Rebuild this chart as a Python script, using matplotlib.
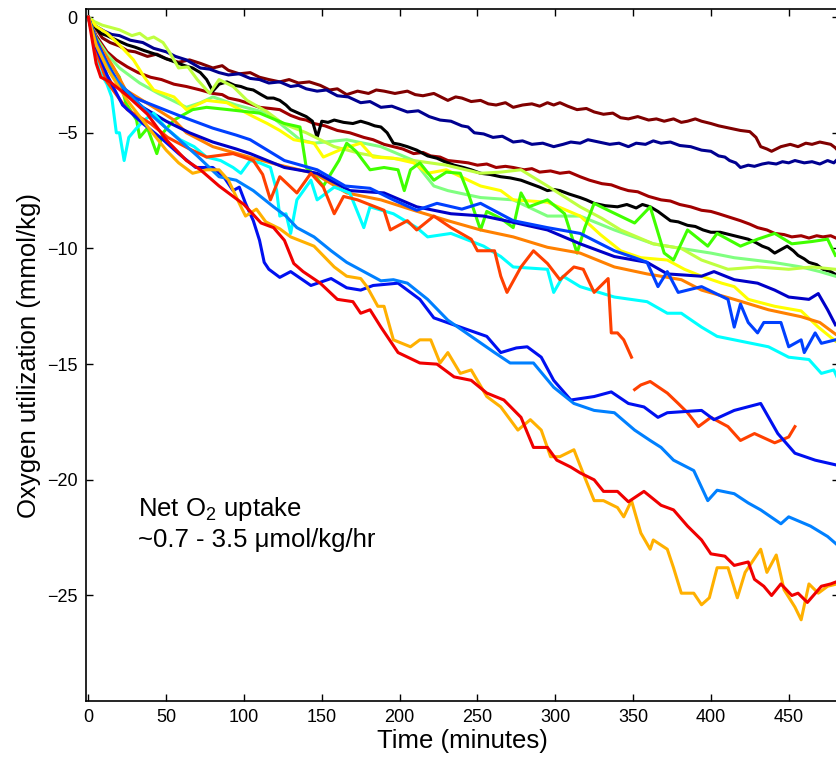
import numpy as np
import matplotlib.pyplot as plt

plt.rcParams['font.family'] = ['Liberation Sans', 'DejaVu Sans']
plt.rcParams['mathtext.fontset'] = 'custom'
plt.rcParams['mathtext.rm'] = 'Liberation Sans'
plt.rcParams['mathtext.default'] = 'regular'

# Oxygen utilization traces (time in minutes, mmol/kg)
maroon = [(0, 0), (3, -0.4), (5, -0.5), (9, -0.9), (14, -1.1), (20, -1.25), (25, -1.45), (30, -1.5), (38, -1.7),
          (44, -1.6), (50, -1.8), (58, -1.95), (65, -1.85), (72, -2.0), (80, -2.2), (86, -2.1), (90, -2.3),
          (97, -2.45), (104, -2.4), (110, -2.6), (116, -2.7), (123, -2.8), (129, -2.7), (135, -2.85), (142, -2.8),
          (149, -2.95), (155, -3.15), (160, -3.1), (166, -3.35), (173, -3.2), (180, -3.3), (185, -3.15), (190, -3.2),
          (197, -3.3), (205, -3.2), (210, -3.35), (215, -3.4), (222, -3.3), (231, -3.6), (236, -3.45), (240, -3.5),
          (246, -3.65), (252, -3.6), (257, -3.75), (262, -3.8), (268, -3.7), (273, -3.9), (279, -3.8), (285, -3.75),
          (290, -3.85), (295, -3.7), (299, -3.8), (303, -3.7), (308, -3.85), (314, -4.0), (320, -3.95), (325, -4.1),
          (331, -4.2), (337, -4.15), (342, -4.35), (347, -4.4), (353, -4.3), (360, -4.45), (365, -4.4), (370, -4.5),
          (376, -4.4), (381, -4.55), (385, -4.5), (390, -4.4), (394, -4.5), (400, -4.6), (405, -4.7), (412, -4.8),
          (419, -4.9), (425, -4.95), (429, -5.2), (432, -5.6), (436, -5.7), (439, -5.8), (445, -5.6), (451, -5.5),
          (456, -5.6), (461, -5.45), (465, -5.5), (470, -5.4), (477, -5.5), (480, -5.65), (482, -5.8)]

navy = [(0, 0), (3, -0.3), (5, -0.4), (10, -0.6), (15, -0.75), (20, -0.8), (27, -1.0), (35, -1.1), (42, -1.35),
        (50, -1.5), (56, -1.7), (63, -1.85), (72, -2.2), (78, -2.25), (84, -2.4), (90, -2.5), (97, -2.45),
        (104, -2.65), (110, -2.7), (116, -2.85), (123, -2.8), (130, -3.0), (135, -2.95), (140, -3.1), (147, -3.2),
        (153, -3.15), (160, -3.4), (167, -3.45), (175, -3.7), (181, -3.65), (188, -3.9), (195, -3.85), (205, -4.1),
        (212, -4.05), (219, -4.3), (226, -4.45), (233, -4.5), (240, -4.7), (244, -4.75), (248, -5.0), (254, -5.05),
        (260, -5.2), (266, -5.15), (273, -5.4), (279, -5.35), (285, -5.5), (292, -5.45), (299, -5.6), (305, -5.5),
        (310, -5.4), (316, -5.45), (321, -5.3), (328, -5.4), (335, -5.5), (341, -5.45), (347, -5.6), (352, -5.45),
        (358, -5.5), (363, -5.35), (368, -5.45), (374, -5.4), (380, -5.55), (387, -5.6), (394, -5.75), (400, -5.8),
        (405, -6.0), (409, -6.05), (412, -6.2), (416, -6.3), (419, -6.5), (424, -6.4), (428, -6.45), (433, -6.35),
        (437, -6.3), (442, -6.35), (446, -6.25), (450, -6.3), (454, -6.2), (460, -6.3), (465, -6.25), (470, -6.35),
        (475, -6.2), (479, -6.3), (482, -6.1)]

darkred = [(0, 0), (3, -0.5), (5, -0.8), (9, -1.2), (12, -1.5), (18, -1.85), (25, -2.15), (32, -2.4), (40, -2.6),
           (47, -2.7), (55, -2.9), (63, -3.0), (72, -3.15), (80, -3.3), (86, -3.35), (90, -3.5), (97, -3.6),
           (104, -3.75), (110, -3.9), (117, -3.95), (123, -4.0), (130, -4.25), (136, -4.4), (140, -4.45), (145, -4.6),
           (152, -4.7), (160, -4.9), (168, -5.0), (177, -5.2), (183, -5.3), (190, -5.5), (196, -5.6), (202, -5.7),
           (209, -5.9), (215, -5.85), (220, -6.0), (226, -6.05), (231, -6.2), (238, -6.25), (244, -6.3), (250, -6.4),
           (256, -6.35), (262, -6.5), (268, -6.45), (273, -6.5), (280, -6.6), (285, -6.55), (290, -6.7), (297, -6.65),
           (303, -6.75), (309, -6.7), (316, -6.9), (322, -7.05), (330, -7.2), (336, -7.25), (342, -7.4), (347, -7.5),
           (353, -7.55), (360, -7.75), (368, -7.9), (374, -7.95), (380, -8.1), (387, -8.2), (394, -8.35), (400, -8.4),
           (405, -8.5), (412, -8.65), (419, -8.8), (425, -8.95), (430, -9.1), (436, -9.2), (441, -9.35), (447, -9.4),
           (452, -9.5), (458, -9.45), (463, -9.55), (468, -9.45), (472, -9.5), (477, -9.45), (482, -9.6)]

black = [(0, 0), (3, -0.3), (6, -0.55), (8, -0.7), (12, -0.8), (15, -0.9), (20, -1.05), (25, -1.2), (30, -1.3),
         (36, -1.45), (43, -1.6), (50, -1.8), (56, -1.95), (62, -2.1), (67, -2.2), (72, -2.4), (76, -2.7), (80, -3.2),
         (84, -2.9), (89, -2.8), (94, -2.95), (98, -3.0), (102, -3.1), (106, -3.15), (111, -3.35), (115, -3.5),
         (119, -3.5), (123, -3.6), (127, -3.8), (130, -4.0), (135, -4.15), (140, -4.3), (144, -4.5), (147, -5.2),
         (150, -4.5), (154, -4.55), (158, -4.45), (164, -4.55), (170, -4.6), (175, -4.5), (180, -4.6), (184, -4.7),
         (188, -4.75), (192, -5.0), (196, -5.45), (200, -5.5), (205, -5.6), (211, -5.75), (218, -6.0), (224, -6.1),
         (229, -6.25), (235, -6.4), (241, -6.5), (246, -6.6), (252, -6.75), (258, -6.8), (265, -6.9), (271, -6.95),
         (278, -7.05), (284, -7.2), (290, -7.35), (295, -7.5), (299, -7.45), (303, -7.5), (309, -7.65), (316, -7.8),
         (320, -7.9), (325, -8.05), (332, -8.15), (340, -8.2), (346, -8.1), (352, -8.25), (356, -8.1), (361, -8.2),
         (366, -8.4), (370, -8.6), (374, -8.8), (379, -8.85), (385, -9.0), (390, -9.05), (395, -9.2), (400, -9.3),
         (406, -9.3), (412, -9.4), (418, -9.5), (424, -9.6), (429, -9.75), (433, -9.9), (437, -10.0), (441, -10.2),
         (445, -10.05), (449, -9.9), (453, -10.1), (456, -10.3), (460, -10.45), (463, -10.6), (468, -10.7),
         (472, -10.9), (477, -11.0), (482, -11.2)]

t_green = [0, 4, 10, 20, 24, 31, 33, 38, 44, 48, 55, 67, 76, 90, 110, 126, 136, 140, 144, 151, 161, 166, 172, 181, 190,
           199, 203, 207, 213, 222, 230, 239, 244, 252, 256, 265, 273, 278, 283, 295, 306, 314, 319, 325, 334, 351, 361,
           370, 376, 385, 398, 404, 419, 430, 441, 452, 465, 475, 480]
v_green = [0, -0.8, -1.6, -2.6, -3.7, -4.45, -5.2, -4.8, -5.9, -5.0, -4.45, -4.0, -3.9, -4.0, -4.15, -4.6, -4.75, -6.5,
           -6.75, -7.3, -6.2, -5.45, -5.8, -6.6, -6.5, -6.6, -7.5, -6.6, -6.3, -7.05, -6.7, -6.75, -7.6, -9.2, -8.4, -8.7,
           -9.1, -7.6, -8.2, -7.9, -8.5, -10.2, -9.1, -8.05, -8.35, -8.9, -8.2, -10.2, -10.5, -9.2, -9.9, -9.35, -9.9,
           -9.6, -9.35, -9.8, -9.7, -9.6, -10.3]

t_lime = [0, 4, 9, 20, 28, 33, 38, 42, 48, 52, 58, 64, 70, 78, 84, 93, 102, 115, 125, 140, 158, 175, 188, 209, 230, 252,
          265, 278, 295, 316, 330, 342, 363, 381, 394, 411, 430, 450, 465, 480]
v_lime = [0, -0.2, -0.35, -0.55, -0.8, -0.7, -0.95, -0.86, -1.1, -1.5, -2.2, -2.15, -2.7, -3.3, -2.7, -3.0, -3.6, -4.1,
          -4.6, -5.0, -5.6, -5.9, -6.05, -6.2, -6.4, -6.75, -6.7, -6.6, -7.3, -8.2, -8.7, -9.2, -9.8, -10.0, -10.5, -10.9,
          -10.8, -10.9, -10.8, -10.9]

t_lightgreen = [0, 5, 12, 20, 33, 45, 63, 72, 80, 95, 115, 136, 145, 166, 188, 209, 222, 231, 252, 273, 295, 316, 338,
                363, 381, 400, 415, 440, 458, 470, 480]
v_lightgreen = [0, -0.9, -1.6, -2.2, -2.85, -3.3, -3.9, -3.7, -3.45, -3.8, -4.15, -5.3, -5.45, -5.3, -5.6, -6.2, -7.3,
                -7.5, -7.8, -7.9, -8.6, -8.6, -9.2, -9.8, -10.0, -10.2, -10.4, -10.6, -10.8, -11.0, -11.2]

t_yellow = [0, 5, 12, 20, 29, 36, 42, 55, 63, 76, 89, 106, 115, 123, 132, 145, 151, 163, 175, 183, 196, 209, 218, 230,
            252, 265, 273, 295, 316, 329, 342, 355, 372, 383, 394, 407, 415, 424, 441, 458, 469, 480]
v_yellow = [0, -0.4, -0.7, -1.2, -1.85, -2.6, -3.15, -3.45, -4.0, -3.6, -3.7, -4.3, -4.6, -4.9, -5.3, -5.45, -6.05, -5.7,
            -5.45, -6.05, -6.1, -6.3, -6.75, -6.6, -7.3, -7.5, -7.9, -8.0, -8.6, -9.4, -10.1, -10.4, -10.5, -10.9, -11.2,
            -11.5, -11.65, -12.2, -12.5, -12.7, -13.4, -14.0]

t_orange = [0, 5, 16, 24, 42, 55, 63, 80, 106, 123, 145, 166, 188, 209, 231, 252, 273, 295, 316, 338, 359, 381, 394, 415,
            437, 458, 470, 480]
v_orange = [0, -1.0, -2.15, -3.15, -3.9, -4.45, -5.0, -5.6, -6.1, -6.4, -6.75, -7.6, -7.9, -8.35, -8.8, -9.2, -9.5,
            -9.95, -10.2, -10.8, -11.1, -11.35, -11.8, -12.2, -12.65, -12.95, -13.2, -13.7]

t_darkblue = [0, 5, 12, 20, 35, 50, 65, 80, 95, 104, 126, 147, 168, 190, 211, 233, 254, 275, 295, 316, 338, 359, 372, 394,
              402, 415, 430, 441, 450, 463, 469, 475, 480]
v_darkblue = [0, -1.0, -2.0, -3.0, -3.9, -4.5, -5.0, -5.4, -5.7, -5.9, -6.5, -6.75, -7.5, -7.6, -8.2, -8.5, -8.6, -8.9,
              -9.2, -9.8, -10.35, -10.6, -11.1, -11.2, -11.0, -11.35, -11.5, -11.8, -12.1, -12.2, -11.95, -12.65, -13.3]

t_blue = [0, 5, 12, 20, 30, 45, 60, 80, 95, 104, 126, 147, 165, 181, 196, 211, 224, 240, 252, 273, 295, 316, 338, 351,
          359, 366, 372, 379, 394, 411, 415, 419, 424, 430, 434, 445, 450, 458, 460, 467, 471, 480]
v_blue = [0, -1.0, -2.0, -2.9, -3.5, -3.9, -4.3, -4.8, -5.1, -5.3, -6.2, -6.6, -7.3, -7.4, -7.9, -8.35, -8.05, -8.3,
          -8.05, -8.8, -9.1, -9.35, -10.1, -10.4, -10.6, -11.65, -11.0, -11.9, -11.65, -12.2, -13.4, -12.4, -13.2, -13.65,
          -13.2, -13.2, -14.25, -13.95, -14.5, -13.65, -14.1, -13.95]

t_cyan = [0, 4, 7, 12, 15, 18, 20, 23, 26, 31, 36, 42, 50, 59, 68, 76, 85, 93, 98, 104, 110, 117, 121, 123, 127, 130,
          134, 143, 147, 158, 168, 177, 181, 196, 211, 218, 233, 254, 265, 273, 295, 299, 305, 316, 338, 359, 372, 381,
          394, 404, 415, 437, 450, 463, 471, 479, 482]
v_cyan = [0, -1.2, -2.3, -2.9, -3.45, -5.0, -5.0, -6.2, -5.2, -4.8, -4.45, -4.15, -4.8, -5.3, -5.6, -6.05, -6.2, -6.5,
          -6.75, -6.2, -6.3, -6.5, -7.5, -8.6, -8.5, -9.35, -7.9, -7.05, -7.9, -7.35, -7.6, -9.1, -8.2, -8.5, -9.1, -9.5,
          -9.35, -9.9, -10.35, -10.8, -10.9, -11.9, -11.2, -11.65, -12.1, -12.3, -12.8, -12.8, -13.4, -13.8, -13.95,
          -14.25, -14.7, -14.8, -15.4, -15.25, -15.7]

t_orangered_a = [0, 5, 12, 25, 40, 51, 65, 76, 93, 106, 112, 117, 123, 134, 143, 151, 158, 164, 173, 190, 194, 205, 211,
                 222, 233, 246, 250, 261, 265, 269, 278, 286, 295, 303, 312, 318, 325, 334, 336, 340, 344, 349]
v_orangered_a = [0, -1.5, -2.8, -4.0, -4.6, -5.2, -5.7, -6.05, -5.9, -6.2, -6.8, -7.9, -6.9, -7.6, -6.75, -7.35, -8.5,
                 -7.75, -7.9, -8.35, -9.2, -8.8, -9.2, -8.6, -9.1, -9.6, -10.1, -10.1, -11.2, -11.9, -10.8, -10.1, -10.65,
                 -11.35, -10.8, -10.9, -11.9, -11.3, -13.65, -13.65, -13.95, -14.7]
t_orangered_b = [351, 355, 361, 372, 379, 385, 392, 400, 411, 419, 428, 441, 450, 454]
v_orangered_b = [-16.1, -15.9, -15.75, -16.25, -16.7, -17.1, -17.7, -17.3, -17.7, -18.3, -18.0, -18.4, -18.15, -17.7]

t_blue2 = [0, 5, 12, 22, 35, 48, 58, 69, 80, 87, 93, 97, 101, 106, 110, 113, 116, 123, 130, 143, 156, 166, 175, 183, 199,
           213, 222, 239, 256, 265, 275, 282, 291, 299, 310, 325, 336, 347, 357, 366, 372, 394, 402, 415, 432, 443, 454,
           467, 480]
v_blue2 = [0, -1.3, -2.5, -3.8, -4.6, -5.3, -5.9, -6.5, -6.5, -6.9, -7.5, -7.35, -8.05, -8.8, -9.65, -10.6, -10.9, -11.25,
           -11.0, -11.6, -11.3, -11.7, -11.8, -11.6, -11.5, -12.2, -13.0, -13.4, -13.8, -14.5, -14.3, -14.25, -14.7, -15.7,
           -16.55, -16.4, -16.2, -16.7, -16.85, -17.3, -17.1, -17.0, -17.4, -17.0, -16.7, -18.0, -18.85, -19.15, -19.35]

t_skyblue = [0, 5, 15, 30, 50, 70, 84, 95, 106, 119, 127, 134, 145, 156, 166, 177, 188, 196, 205, 218, 231, 246, 261, 271,
             286, 299, 312, 325, 338, 351, 361, 368, 376, 389, 398, 404, 415, 424, 432, 445, 450, 464, 475, 481]
v_skyblue = [0, -1.2, -2.5, -3.6, -4.8, -6.0, -6.9, -7.05, -7.5, -8.2, -8.6, -9.1, -9.5, -10.1, -10.6, -11.0, -11.4,
             -11.35, -11.5, -12.2, -13.1, -13.8, -14.5, -14.95, -14.95, -16.0, -16.7, -17.0, -17.1, -17.85, -18.3, -18.6,
             -19.15, -19.6, -20.9, -20.45, -20.6, -21.0, -21.3, -21.9, -21.6, -22.0, -22.45, -22.8]

t_amber = [0, 5, 12, 25, 40, 50, 58, 67, 76, 84, 90, 97, 101, 108, 114, 123, 130, 145, 158, 166, 175, 179, 186, 190, 196,
           207, 213, 220, 226, 231, 239, 246, 256, 265, 276, 284, 291, 297, 303, 312, 319, 325, 331, 340, 344, 349, 355,
           361, 363, 372, 376, 381, 389, 394, 399, 404, 411, 417, 422, 432, 436, 442, 447, 454, 458, 463, 469, 475, 481]
v_amber = [0, -1.2, -2.2, -3.6, -4.9, -5.75, -6.3, -6.75, -6.6, -6.6, -7.05, -8.05, -8.6, -8.3, -8.85, -9.15, -9.5, -9.9,
           -10.8, -11.2, -11.3, -11.65, -12.5, -12.5, -13.95, -14.25, -13.95, -13.95, -14.95, -14.5, -15.4, -15.25, -16.4,
           -16.85, -17.85, -17.4, -17.85, -19.0, -19.0, -18.7, -19.9, -20.9, -20.9, -21.2, -21.6, -20.9, -22.3, -23.0,
           -22.6, -23.0, -23.8, -24.9, -24.9, -25.4, -25.1, -23.8, -23.8, -25.1, -24.0, -23.0, -24.0, -23.25, -24.75,
           -25.5, -26.05, -24.5, -24.9, -24.6, -24.5]

t_red = [0, 3, 5, 8, 14, 25, 38, 50, 63, 72, 84, 90, 100, 111, 119, 126, 132, 138, 149, 160, 170, 175, 181, 188, 199,
         213, 224, 235, 246, 256, 267, 278, 286, 295, 301, 310, 316, 325, 331, 340, 347, 357, 368, 376, 385, 394, 400,
         409, 415, 424, 428, 434, 439, 445, 452, 456, 462, 471, 477, 481]
v_red = [0, -1.2, -2.0, -2.6, -2.8, -3.4, -4.2, -5.3, -6.2, -6.6, -7.3, -7.6, -8.1, -8.9, -9.1, -9.65, -10.65, -11.0,
         -11.5, -12.2, -12.3, -12.8, -12.65, -13.4, -14.5, -14.95, -15.0, -15.55, -15.7, -16.25, -16.55, -17.3, -18.6,
         -18.6, -19.15, -19.45, -19.7, -20.0, -20.5, -20.5, -20.95, -20.5, -21.1, -21.3, -22.0, -22.6, -23.2, -23.3,
         -23.7, -23.55, -24.3, -24.6, -25.0, -24.5, -25.0, -24.9, -25.3, -24.6, -24.5, -24.4]

series = [
    (*zip(*maroon), '#800000'),
    (*zip(*navy), '#000090'),
    (*zip(*darkred), '#A00000'),
    (*zip(*black), '#000000'),
    (t_lightgreen, v_lightgreen, '#80FF80'),
    (t_lime, v_lime, '#BFFF40'),
    (t_yellow, v_yellow, '#FFFF00'),
    (t_green, v_green, '#40FF00'),
    (t_orange, v_orange, '#FF8000'),
    (t_darkblue, v_darkblue, '#0000C8'),
    (t_blue, v_blue, '#0040FF'),
    (t_cyan, v_cyan, '#00FFFF'),
    (t_orangered_a, v_orangered_a, '#FF4000'),
    (t_orangered_b, v_orangered_b, '#FF4000'),
    (t_blue2, v_blue2, '#0010F0'),
    (t_skyblue, v_skyblue, '#0080FF'),
    (t_amber, v_amber, '#FFB000'),
    (t_red, v_red, '#F00000'),
]

fig = plt.figure(figsize=(8.37, 7.57), dpi=100)
ax = fig.add_axes([86 / 837, 56 / 757, 752.5 / 837, 692 / 757])

for t, v, c in series:
    ax.plot(t, v, color=c, lw=2.2, solid_joinstyle='round')

ax.set_xlim(-1.5, 482)
ax.set_ylim(-29.56, 0.35)
ax.set_xticks(np.arange(0, 451, 50))
ax.set_yticks(np.arange(-25, 1, 5))
ax.tick_params(direction='in', length=5, width=1, top=True, right=True, labelsize=13, pad=6)
for s in ax.spines.values():
    s.set_linewidth(1.2)

ax.set_xlabel('Time (minutes)', fontsize=18.5, labelpad=2)
ax.set_ylabel('Oxygen utilization (mmol/kg)', fontsize=18.5, labelpad=4)

ax.text(32, -21.9, 'Net O$_2$ uptake\n~0.7 - 3.5 \u03bcmol/kg/hr', fontsize=18.5, va='center', ha='left',
        linespacing=1.25)

fig.savefig('out.png', dpi=100)
